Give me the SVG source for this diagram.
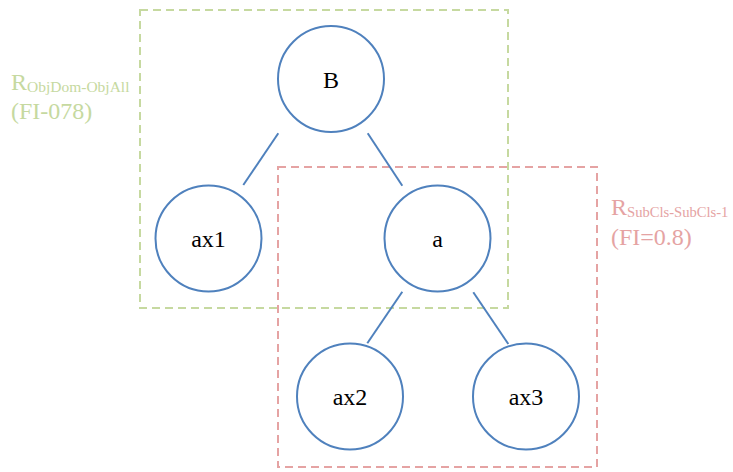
<svg xmlns="http://www.w3.org/2000/svg" width="733" height="472" viewBox="0 0 733 472">
<style>
.node circle{fill:#fff;stroke:#4f81bd;stroke-width:2}
.node text{font-family:"Liberation Serif","DejaVu Serif",serif;font-size:24px;fill:#000;text-anchor:middle}
.edge{stroke:#4f81bd;stroke-width:2}
.rg{fill:none;stroke:#c6d9a0;stroke-width:2;stroke-dasharray:8 5}
.rr{fill:none;stroke:#e5a3a3;stroke-width:2;stroke-dasharray:8 5}
.lbl{font-family:"Liberation Serif","DejaVu Serif",serif;font-size:24px}
.sub{font-size:15.5px}
.subr{font-size:14.6px}
</style>
<rect width="733" height="472" fill="#fff"/>
<g id="regions">
<rect class="rg" x="140" y="10" width="368" height="298"/>
<rect class="rr" x="278" y="167" width="319" height="300"/>
</g>
<g id="connectors">
<line class="edge" x1="278.3" y1="133.3" x2="243.3" y2="185"/>
<line class="edge" x1="367.7" y1="133.3" x2="402.3" y2="185.7"/>
<line class="edge" x1="402.3" y1="291.7" x2="367.3" y2="343.3"/>
<line class="edge" x1="473.3" y1="292.3" x2="508.3" y2="344"/>
</g>
<g id="node-B" class="node"><circle cx="331" cy="79" r="53"/><text x="331" y="88">B</text></g>
<g id="node-ax1" class="node"><circle cx="208.5" cy="238.5" r="53"/><text x="208.5" y="247">ax1</text></g>
<g id="node-a" class="node"><circle cx="437.5" cy="238.5" r="53"/><text x="437.5" y="247">a</text></g>
<g id="node-ax2" class="node"><circle cx="350" cy="396.5" r="53"/><text x="350" y="405">ax2</text></g>
<g id="node-ax3" class="node"><circle cx="526" cy="396.5" r="53"/><text x="526" y="405">ax3</text></g>
<g id="label-green" fill="#c6d9a0" class="lbl">
<text x="11" y="90">R<tspan class="sub" dy="2">ObjDom-ObjAll</tspan></text>
<text x="11" y="119">(FI-078)</text>
</g>
<g id="label-red" fill="#e5a3a3" class="lbl">
<text x="611" y="215">R<tspan class="subr" dy="2">SubCls-SubCls-1</tspan></text>
<text x="611" y="245">(FI=0.8)</text>
</g>
</svg>
